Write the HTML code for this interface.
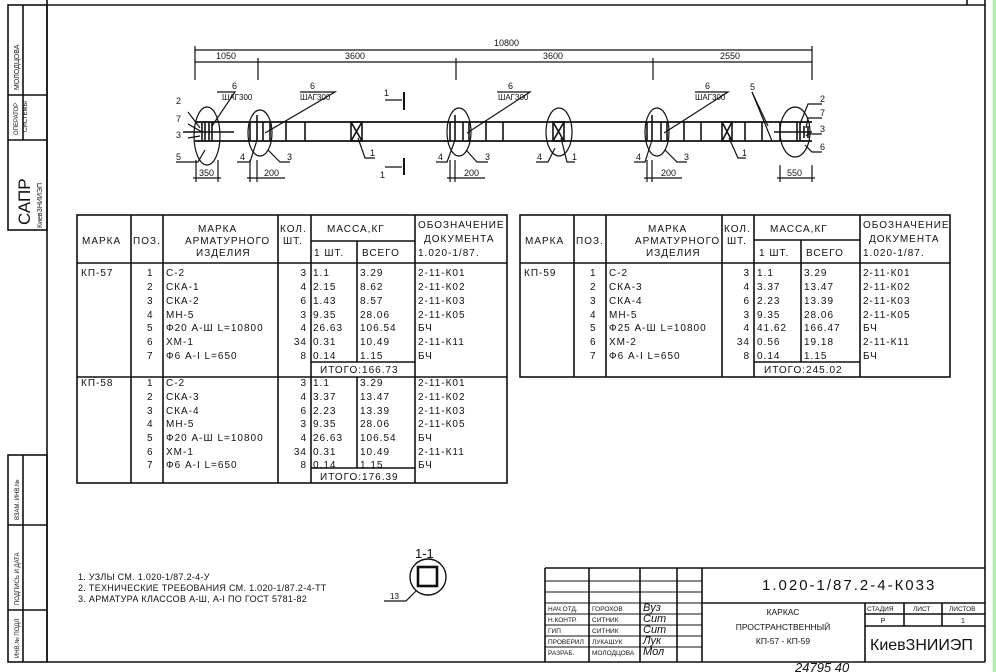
<!DOCTYPE html>
<html><head><meta charset="utf-8"><style>
html,body{margin:0;padding:0;background:#fff;}
svg{display:block;}
text{font-family:"Liberation Sans",sans-serif;fill:#111;}
.t{font-size:10px;letter-spacing:1px;}
.s{font-size:7px;}
</style></head><body>
<svg width="996" height="672" viewBox="0 0 996 672" xmlns="http://www.w3.org/2000/svg">
<rect x="993" y="0" width="3" height="672" fill="#a6f5a0"/>
<g stroke="#111" fill="none" stroke-width="1.6">
<line x1="47" y1="5" x2="985" y2="5"/>
<line x1="47" y1="0" x2="47" y2="662"/>
<line x1="985" y1="0" x2="985" y2="662"/>
<line x1="47" y1="662" x2="985" y2="662"/>
<line x1="967" y1="0" x2="967" y2="5"/>
<rect x="8" y="5" width="39" height="225"/>
<line x1="8" y1="95" x2="47" y2="95"/><line x1="8" y1="140" x2="47" y2="140"/>
<line x1="23" y1="5" x2="23" y2="140"/>
<rect x="8" y="455" width="39" height="207"/>
<line x1="8" y1="525" x2="47" y2="525"/><line x1="8" y1="610" x2="47" y2="610"/>
<line x1="23" y1="455" x2="23" y2="662"/>
</g>
<g class="s">
<text transform="translate(19,90) rotate(-90)">МОЛОДЦОВА</text>
<text transform="translate(18,135) rotate(-90)" font-size="6">ОПЕРАТОР</text>
<text transform="translate(27,132) rotate(-90)" font-size="6">СИСТЕМЫ</text>
<text transform="translate(30,225) rotate(-90)" font-size="17">САПР</text>
<text transform="translate(42,228) rotate(-90)" font-size="7">КиевЗНИИЭП</text>
<text transform="translate(19,520) rotate(-90)" font-size="6">ВЗАМ. ИНВ.№</text>
<text transform="translate(19,605) rotate(-90)" font-size="6">ПОДПИСЬ И ДАТА</text>
<text transform="translate(19,658) rotate(-90)" font-size="6">ИНВ.№ ПОДЛ</text>
</g>

<g stroke="#111" fill="none" stroke-width="1.2">
<line x1="195" y1="50" x2="812" y2="50"/>
<line x1="195" y1="62" x2="812" y2="62"/>
<line x1="195" y1="46" x2="195" y2="80"/><line x1="812" y1="46" x2="812" y2="80"/>
<line x1="258" y1="58" x2="258" y2="80"/><line x1="456" y1="58" x2="456" y2="80"/><line x1="653" y1="58" x2="653" y2="80"/>
<line x1="195" y1="122" x2="812" y2="122" stroke-width="1.8"/>
<line x1="195" y1="141" x2="812" y2="141" stroke-width="1.8"/>
<ellipse cx="207" cy="136" rx="13" ry="29"/>
<ellipse cx="260" cy="133" rx="12" ry="23"/>
<ellipse cx="459" cy="132" rx="12" ry="24"/>
<ellipse cx="559" cy="132" rx="13" ry="24"/>
<ellipse cx="657" cy="132" rx="12" ry="24"/>
<ellipse cx="795" cy="132" rx="15" ry="25"/>
<g stroke-width="1.6">
<line x1="202" y1="122" x2="202" y2="141"/><line x1="205" y1="122" x2="205" y2="141"/><line x1="209" y1="122" x2="209" y2="141"/><line x1="212" y1="122" x2="212" y2="141"/>
<line x1="183" y1="132" x2="234" y2="132"/>
<line x1="250" y1="122" x2="250" y2="141"/><line x1="257" y1="115" x2="257" y2="141"/><line x1="263" y1="122" x2="263" y2="141"/><line x1="270" y1="122" x2="270" y2="141"/>
<line x1="286" y1="122" x2="286" y2="141"/><line x1="305" y1="122" x2="305" y2="141"/>
<rect x="351" y="122" width="11" height="19"/><line x1="351" y1="122" x2="362" y2="141"/><line x1="362" y1="122" x2="351" y2="141"/>
<line x1="450" y1="122" x2="450" y2="141"/><line x1="455" y1="115" x2="455" y2="141"/><line x1="463" y1="122" x2="463" y2="141"/><line x1="469" y1="122" x2="469" y2="141"/>
<line x1="486" y1="122" x2="486" y2="141"/><line x1="503" y1="122" x2="503" y2="141"/>
<rect x="553" y="122" width="11" height="19"/><line x1="553" y1="122" x2="564" y2="141"/><line x1="564" y1="122" x2="553" y2="141"/>
<line x1="647" y1="122" x2="647" y2="141"/><line x1="652" y1="115" x2="652" y2="141"/><line x1="661" y1="122" x2="661" y2="141"/><line x1="667" y1="122" x2="667" y2="141"/>
<line x1="684" y1="122" x2="684" y2="141"/><line x1="701" y1="122" x2="701" y2="141"/>
<rect x="722" y="122" width="10" height="19"/><line x1="722" y1="122" x2="732" y2="141"/><line x1="732" y1="122" x2="722" y2="141"/>
<line x1="745" y1="122" x2="745" y2="141"/><line x1="762" y1="122" x2="762" y2="141"/>
<line x1="780" y1="122" x2="780" y2="141"/><line x1="797" y1="122" x2="797" y2="141"/><line x1="800" y1="122" x2="800" y2="141"/><line x1="804" y1="126" x2="804" y2="138"/><line x1="808" y1="126" x2="808" y2="138"/>
<line x1="774" y1="132" x2="812" y2="132"/>
</g>
<line x1="404" y1="92" x2="404" y2="110" stroke-width="2"/><line x1="404" y1="158" x2="404" y2="175" stroke-width="2"/>
<line x1="385" y1="100" x2="402" y2="100"/><line x1="385" y1="167" x2="402" y2="167"/>
<polyline points="188,112 200,128"/><polyline points="188,124 202,132"/><polyline points="188,138 200,136"/><polyline points="176,162 198,162 205,150"/>
<polyline points="217,92 235,92 212,126"/>
<polyline points="300,92 335,92 265,133"/>
<polyline points="237,162 250,162 257,140"/><polyline points="290,162 280,162 268,150"/>
<polyline points="375,158 365,158 358,138"/>
<polyline points="497,92 530,92 467,133"/>
<polyline points="436,162 447,162 455,140"/><polyline points="488,162 477,162 466,150"/>
<polyline points="536,162 548,162 555,148"/><polyline points="575,162 567,162 561,138"/>
<polyline points="695,92 728,92 664,133"/>
<polyline points="634,162 645,162 652,140"/><polyline points="687,162 677,162 665,150"/>
<polyline points="746,158 738,158 729,138"/>
<polyline points="752,92 768,126"/><polyline points="752,92 772,141"/>
<polyline points="822,104 808,104 800,124"/><polyline points="822,118 808,118 806,128"/><polyline points="822,134 808,134 806,136"/><polyline points="822,152 812,152 805,145"/>
<line x1="196" y1="160" x2="196" y2="182"/><line x1="218" y1="160" x2="218" y2="182"/><line x1="193" y1="178" x2="221" y2="178"/>
<line x1="250" y1="160" x2="250" y2="182"/><line x1="257" y1="160" x2="257" y2="182"/><line x1="247" y1="178" x2="285" y2="178"/>
<line x1="450" y1="160" x2="450" y2="182"/><line x1="455" y1="160" x2="455" y2="182"/><line x1="447" y1="178" x2="485" y2="178"/>
<line x1="647" y1="160" x2="647" y2="182"/><line x1="652" y1="160" x2="652" y2="182"/><line x1="644" y1="178" x2="682" y2="178"/>
<line x1="780" y1="165" x2="780" y2="182"/><line x1="812" y1="165" x2="812" y2="182"/><line x1="777" y1="178" x2="815" y2="178"/>
</g>
<g font-size="9">
<text x="494" y="46">10800</text>
<text x="216" y="59">1050</text><text x="345" y="59">3600</text><text x="543" y="59">3600</text><text x="720" y="59">2550</text>
<text x="232" y="89">6</text><text x="222" y="100" font-size="8">ШАГ300</text>
<text x="310" y="89">6</text><text x="300" y="100" font-size="8">ШАГ300</text>
<text x="508" y="89">6</text><text x="498" y="100" font-size="8">ШАГ300</text>
<text x="705" y="89">6</text><text x="695" y="100" font-size="8">ШАГ300</text>
<text x="750" y="90">5</text>
<text x="176" y="104">2</text><text x="176" y="122">7</text><text x="176" y="138">3</text><text x="176" y="160">5</text>
<text x="384" y="96">1</text><text x="380" y="178">1</text>
<text x="240" y="160">4</text><text x="287" y="160">3</text><text x="370" y="156">1</text>
<text x="438" y="160">4</text><text x="485" y="160">3</text>
<text x="537" y="160">4</text><text x="572" y="160">1</text>
<text x="636" y="160">4</text><text x="684" y="160">3</text><text x="742" y="156">1</text>
<text x="820" y="102">2</text><text x="820" y="116">7</text><text x="820" y="132">3</text><text x="820" y="150">6</text>
<text x="199" y="176">350</text><text x="264" y="176">200</text><text x="464" y="176">200</text><text x="661" y="176">200</text><text x="787" y="176">550</text>
</g>

<g stroke="#111" fill="none" stroke-width="1.6">
<rect x="77" y="215" width="430" height="268"/>
<line x1="131" y1="215" x2="131" y2="483"/><line x1="163" y1="215" x2="163" y2="483"/>
<line x1="278" y1="215" x2="278" y2="483"/><line x1="311" y1="215" x2="311" y2="483"/>
<line x1="357" y1="241" x2="357" y2="362"/><line x1="357" y1="377" x2="357" y2="468"/>
<line x1="415" y1="215" x2="415" y2="483"/>
<line x1="311" y1="241" x2="415" y2="241"/>
<line x1="77" y1="263" x2="507" y2="263"/>
<line x1="311" y1="362" x2="415" y2="362"/>
<line x1="77" y1="377" x2="507" y2="377"/>
<line x1="311" y1="468" x2="415" y2="468"/>
</g>
<g class="t">
<text x="82" y="244">МАРКА</text><text x="133" y="244">ПОЗ.</text>
<text x="198" y="232">МАРКА</text><text x="185" y="244">АРМАТУРНОГО</text><text x="196" y="256">ИЗДЕЛИЯ</text>
<text x="280" y="232">КОЛ.</text><text x="283" y="244">ШТ.</text>
<text x="327" y="232">МАССА,КГ</text><text x="314" y="256">1 ШТ.</text><text x="362" y="256">ВСЕГО</text>
<text x="418" y="228">ОБОЗНАЧЕНИЕ</text><text x="424" y="242">ДОКУМЕНТА</text><text x="418" y="256">1.020-1/87.</text>
</g>
<g class="t">
<text x="81" y="276">КП-57</text>
<text x="147" y="276">1</text><text x="147" y="290">2</text><text x="147" y="304">3</text><text x="147" y="318">4</text><text x="147" y="331">5</text><text x="147" y="345">6</text><text x="147" y="359">7</text>
<text x="166" y="276">С-2</text><text x="166" y="290">СКА-1</text><text x="166" y="304">СКА-2</text><text x="166" y="318">МН-5</text><text x="166" y="331">Ф20 А-Ш L=10800</text><text x="166" y="345">ХМ-1</text><text x="166" y="359">Ф6 А-I L=650</text>
<g text-anchor="end"><text x="307" y="276">3</text><text x="307" y="290">4</text><text x="307" y="304">6</text><text x="307" y="318">3</text><text x="307" y="331">4</text><text x="307" y="345">34</text><text x="307" y="359">8</text></g>
<text x="313" y="276">1.1</text><text x="313" y="290">2.15</text><text x="313" y="304">1.43</text><text x="313" y="318">9.35</text><text x="313" y="331">26.63</text><text x="313" y="345">0.31</text><text x="313" y="359">0.14</text>
<text x="360" y="276">3.29</text><text x="360" y="290">8.62</text><text x="360" y="304">8.57</text><text x="360" y="318">28.06</text><text x="360" y="331">106.54</text><text x="360" y="345">10.49</text><text x="360" y="359">1.15</text>
<text x="418" y="276">2-11-К01</text><text x="418" y="290">2-11-К02</text><text x="418" y="304">2-11-К03</text><text x="418" y="318">2-11-К05</text><text x="418" y="331">БЧ</text><text x="418" y="345">2-11-К11</text><text x="418" y="359">БЧ</text>
<text x="320" y="373">ИТОГО:166.73</text>
<text x="81" y="386">КП-58</text>
<text x="147" y="386">1</text><text x="147" y="400">2</text><text x="147" y="414">3</text><text x="147" y="427">4</text><text x="147" y="441">5</text><text x="147" y="455">6</text><text x="147" y="468">7</text>
<text x="166" y="386">С-2</text><text x="166" y="400">СКА-3</text><text x="166" y="414">СКА-4</text><text x="166" y="427">МН-5</text><text x="166" y="441">Ф20 А-Ш L=10800</text><text x="166" y="455">ХМ-1</text><text x="166" y="468">Ф6 А-I L=650</text>
<g text-anchor="end"><text x="307" y="386">3</text><text x="307" y="400">4</text><text x="307" y="414">6</text><text x="307" y="427">3</text><text x="307" y="441">4</text><text x="307" y="455">34</text><text x="307" y="468">8</text></g>
<text x="313" y="386">1.1</text><text x="313" y="400">3.37</text><text x="313" y="414">2.23</text><text x="313" y="427">9.35</text><text x="313" y="441">26.63</text><text x="313" y="455">0.31</text><text x="313" y="468">0.14</text>
<text x="360" y="386">3.29</text><text x="360" y="400">13.47</text><text x="360" y="414">13.39</text><text x="360" y="427">28.06</text><text x="360" y="441">106.54</text><text x="360" y="455">10.49</text><text x="360" y="468">1.15</text>
<text x="418" y="386">2-11-К01</text><text x="418" y="400">2-11-К02</text><text x="418" y="414">2-11-К03</text><text x="418" y="427">2-11-К05</text><text x="418" y="441">БЧ</text><text x="418" y="455">2-11-К11</text><text x="418" y="468">БЧ</text>
<text x="320" y="480">ИТОГО:176.39</text>
</g>

<g stroke="#111" fill="none" stroke-width="1.6">
<rect x="520" y="215" width="430" height="162"/>
<line x1="574" y1="215" x2="574" y2="377"/><line x1="606" y1="215" x2="606" y2="377"/>
<line x1="722" y1="215" x2="722" y2="377"/><line x1="754" y1="215" x2="754" y2="377"/>
<line x1="801" y1="240" x2="801" y2="362"/><line x1="860" y1="215" x2="860" y2="377"/>
<line x1="754" y1="240" x2="860" y2="240"/>
<line x1="520" y1="263" x2="950" y2="263"/>
<line x1="754" y1="362" x2="860" y2="362"/>
</g>
<g class="t">
<text x="525" y="244">МАРКА</text><text x="576" y="244">ПОЗ.</text>
<text x="648" y="232">МАРКА</text><text x="635" y="244">АРМАТУРНОГО</text><text x="646" y="256">ИЗДЕЛИЯ</text>
<text x="724" y="232">КОЛ.</text><text x="727" y="244">ШТ.</text>
<text x="770" y="232">МАССА,КГ</text><text x="759" y="256">1 ШТ.</text><text x="806" y="256">ВСЕГО</text>
<text x="863" y="228">ОБОЗНАЧЕНИЕ</text><text x="869" y="242">ДОКУМЕНТА</text><text x="863" y="256">1.020-1/87.</text>
<text x="524" y="276">КП-59</text>
<text x="590" y="276">1</text><text x="590" y="290">2</text><text x="590" y="304">3</text><text x="590" y="318">4</text><text x="590" y="331">5</text><text x="590" y="345">6</text><text x="590" y="359">7</text>
<text x="609" y="276">С-2</text><text x="609" y="290">СКА-3</text><text x="609" y="304">СКА-4</text><text x="609" y="318">МН-5</text><text x="609" y="331">Ф25 А-Ш L=10800</text><text x="609" y="345">ХМ-2</text><text x="609" y="359">Ф6 А-I L=650</text>
<g text-anchor="end"><text x="750" y="276">3</text><text x="750" y="290">4</text><text x="750" y="304">6</text><text x="750" y="318">3</text><text x="750" y="331">4</text><text x="750" y="345">34</text><text x="750" y="359">8</text></g>
<text x="757" y="276">1.1</text><text x="757" y="290">3.37</text><text x="757" y="304">2.23</text><text x="757" y="318">9.35</text><text x="757" y="331">41.62</text><text x="757" y="345">0.56</text><text x="757" y="359">0.14</text>
<text x="804" y="276">3.29</text><text x="804" y="290">13.47</text><text x="804" y="304">13.39</text><text x="804" y="318">28.06</text><text x="804" y="331">166.47</text><text x="804" y="345">19.18</text><text x="804" y="359">1.15</text>
<text x="863" y="276">2-11-К01</text><text x="863" y="290">2-11-К02</text><text x="863" y="304">2-11-К03</text><text x="863" y="318">2-11-К05</text><text x="863" y="331">БЧ</text><text x="863" y="345">2-11-К11</text><text x="863" y="359">БЧ</text>
<text x="764" y="373">ИТОГО:245.02</text>
</g>

<g font-size="9" letter-spacing="0.3">
<text x="78" y="580">1. УЗЛЫ СМ. 1.020-1/87.2-4-У</text>
<text x="78" y="591">2. ТЕХНИЧЕСКИЕ ТРЕБОВАНИЯ СМ. 1.020-1/87.2-4-ТТ</text>
<text x="78" y="602">3. АРМАТУРА КЛАССОВ А-Ш, А-I ПО ГОСТ 5781-82</text>
</g>
<text x="415" y="558" font-size="13">1-1</text>
<g stroke="#111" fill="none">
<circle cx="428" cy="577" r="18" stroke-width="1.4"/>
<rect x="418" y="567" width="19" height="19" stroke-width="2.6"/>
<polyline points="384,601 406,601 416,591" stroke-width="1.2"/>
</g>
<text x="390" y="599" font-size="8">13</text>

<g stroke="#111" fill="none" stroke-width="1.6">
<line x1="545" y1="568" x2="985" y2="568"/>
<line x1="545" y1="568" x2="545" y2="662"/>
<line x1="589" y1="568" x2="589" y2="662"/><line x1="640" y1="568" x2="640" y2="662"/>
<line x1="677" y1="568" x2="677" y2="662"/><line x1="702" y1="568" x2="702" y2="662"/>
<line x1="702" y1="603" x2="985" y2="603"/>
<line x1="865" y1="603" x2="865" y2="662"/>
<line x1="865" y1="626" x2="985" y2="626"/>
<line x1="865" y1="614" x2="985" y2="614"/>
<line x1="904" y1="603" x2="904" y2="626"/><line x1="942" y1="603" x2="942" y2="626"/>
<g stroke-width="1">
<line x1="545" y1="581" x2="702" y2="581"/><line x1="545" y1="592" x2="702" y2="592"/>
<line x1="545" y1="603" x2="702" y2="603"/><line x1="545" y1="614" x2="702" y2="614"/>
<line x1="545" y1="625" x2="702" y2="625"/><line x1="545" y1="636" x2="702" y2="636"/>
<line x1="545" y1="647" x2="702" y2="647"/>
</g>
</g>
<g font-size="6.5">
<text x="548" y="611">НАЧ.ОТД.</text><text x="592" y="611">ГОРОХОВ</text>
<text x="548" y="622">Н.КОНТР.</text><text x="592" y="622">СИТНИК</text>
<text x="548" y="633">ГИП</text><text x="592" y="633">СИТНИК</text>
<text x="548" y="644">ПРОВЕРИЛ</text><text x="592" y="644">ЛУКАШУК</text>
<text x="548" y="655">РАЗРАБ.</text><text x="592" y="655">МОЛОДЦОВА</text>
<text x="867" y="611">СТАДИЯ</text><text x="913" y="611">ЛИСТ</text><text x="949" y="611">ЛИСТОВ</text>
</g>
<g font-size="11" font-style="italic" fill="#333">
<text x="643" y="611">Вуз</text><text x="643" y="622">Сит</text><text x="643" y="633">Сит</text><text x="643" y="644">Лук</text><text x="643" y="655">Мол</text>
</g>
<text x="762" y="590" font-size="15" letter-spacing="2">1.020-1/87.2-4-К033</text>
<g font-size="8.5" text-anchor="middle">
<text x="783" y="615">КАРКАС</text>
<text x="783" y="630">ПРОСТРАНСТВЕННЫЙ</text>
<text x="783" y="644">КП-57 - КП-59</text>
<text x="883" y="623" font-size="7">Р</text>
<text x="963" y="623" font-size="7">1</text>
</g>
<text x="870" y="650" font-size="16">КиевЗНИИЭП</text>
<text x="795" y="672" font-size="13" font-style="italic">24795 40</text>
</svg>
</body></html>
